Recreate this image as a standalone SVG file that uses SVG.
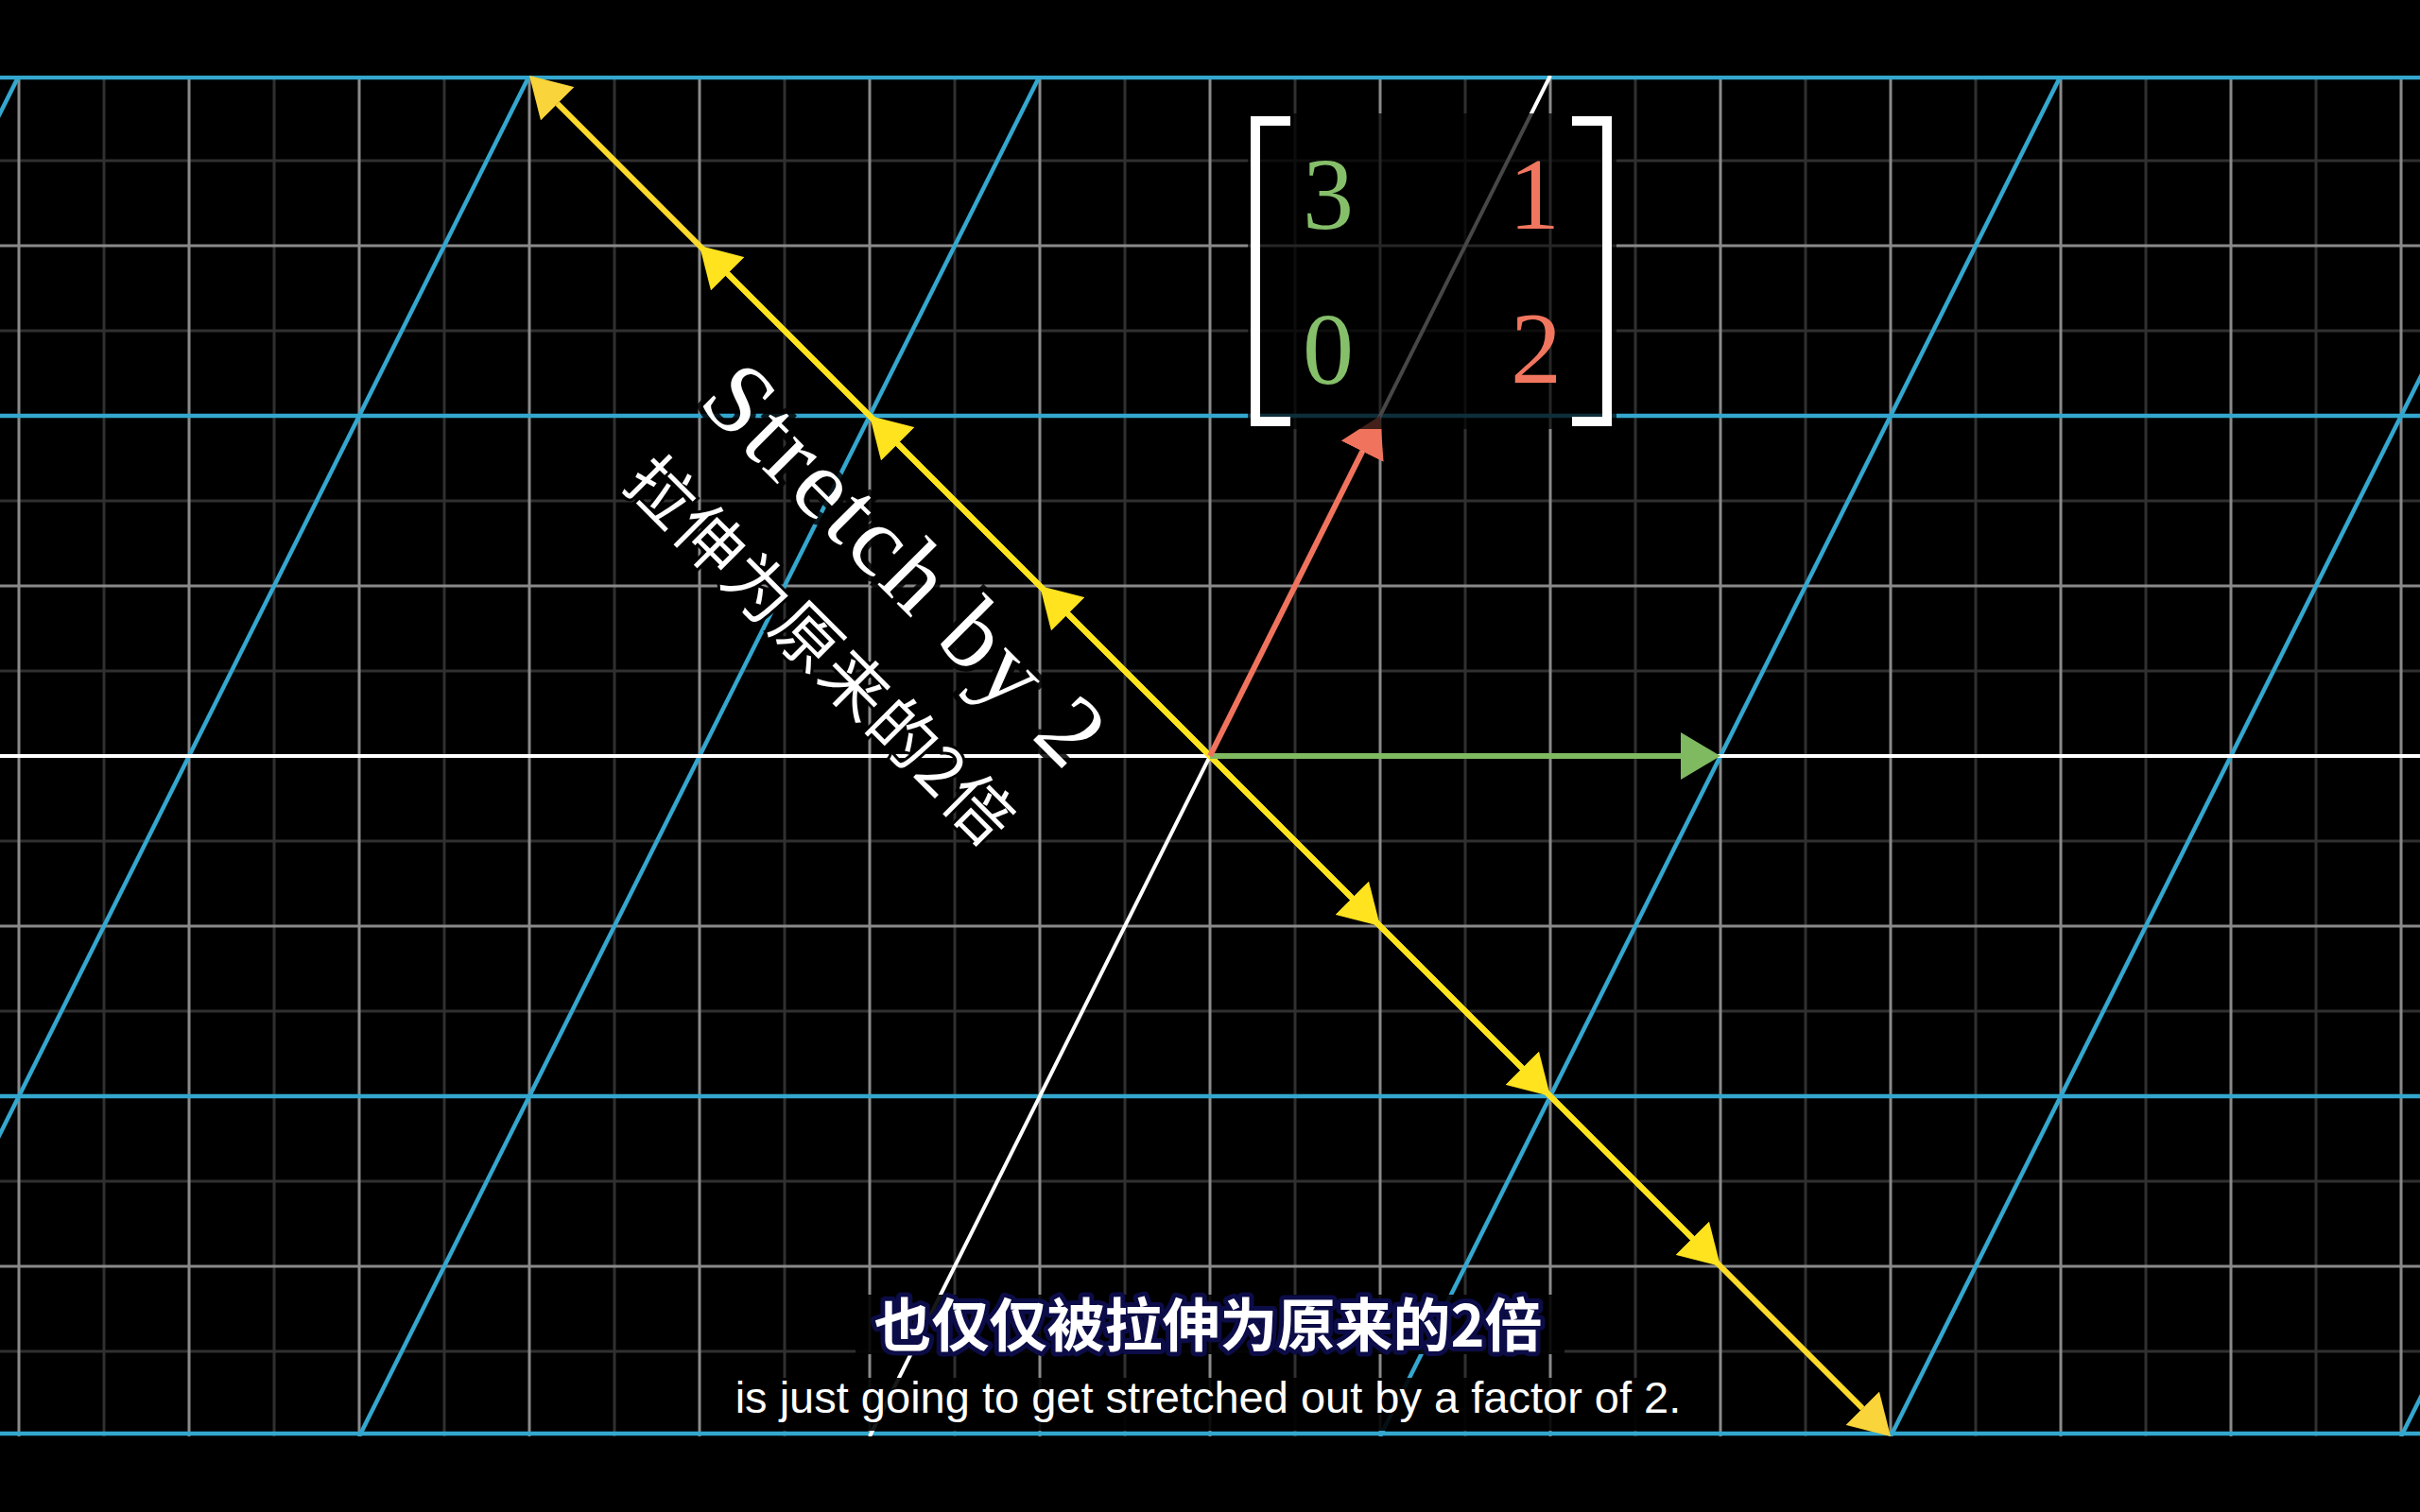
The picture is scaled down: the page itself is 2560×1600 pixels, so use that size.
<svg xmlns="http://www.w3.org/2000/svg" width="2560" height="1600" viewBox="0 0 2560 1600">
<defs>
<clipPath id="video"><rect x="0" y="80" width="2560" height="1440"/></clipPath>
<marker id="ahY" markerUnits="userSpaceOnUse" viewBox="0 -25 42 50" refX="0" refY="0" markerWidth="42" markerHeight="50" orient="auto"><path d="M0,-25 L42,0 L0,25 Z" fill="#FFE31E"/></marker>
<marker id="ahY4" markerUnits="userSpaceOnUse" viewBox="0 -25 42 50" refX="0" refY="0" markerWidth="42" markerHeight="50" orient="auto"><path d="M0,-25 L42,0 L0,25 Z" fill="#F9D43A"/></marker>
<marker id="ahG" markerUnits="userSpaceOnUse" viewBox="0 -25 42 50" refX="0" refY="0" markerWidth="42" markerHeight="50" orient="auto"><path d="M0,-25 L42,0 L0,25 Z" fill="#7FB960"/></marker>
<marker id="ahR" markerUnits="userSpaceOnUse" viewBox="0 -25 42 50" refX="0" refY="0" markerWidth="42" markerHeight="50" orient="auto"><path d="M0,-25 L42,0 L0,25 Z" fill="#F0735D"/></marker>
<style>
.gInt{stroke:#8a8a8a;stroke-width:3;fill:none}
.gHalf{stroke:#303030;stroke-width:3;fill:none}
.blue{stroke:#34A7CF;stroke-width:4.5;fill:none}
.axis{stroke:#ffffff;stroke-width:4;fill:none}
.vy{stroke:#FFE31E;stroke-width:6;fill:none;marker-end:url(#ahY)}
.vy4{stroke:#FCDA2C;stroke-width:6;fill:none;marker-end:url(#ahY4)}
.vg{stroke:#7FB960;stroke-width:6;fill:none;marker-end:url(#ahG)}
.vr{stroke:#F0735D;stroke-width:6;fill:none;marker-end:url(#ahR)}
.bracket{stroke:#ffffff;stroke-width:10;fill:none;stroke-linejoin:miter;stroke-linecap:butt}
.num{font-family:"Liberation Serif","DejaVu Serif",serif;font-size:108px;text-anchor:middle}
.label{font-family:"Liberation Serif","DejaVu Serif",serif;font-size:106px;fill:#ffffff;stroke:#000000;stroke-width:12;stroke-opacity:0.85;paint-order:stroke;text-anchor:middle}
.cnlabel{font-family:"Noto Sans CJK SC",sans-serif;font-size:70px;fill:#ffffff;stroke:#000000;stroke-width:6;paint-order:stroke;text-anchor:middle}
.subcn{font-family:"Noto Sans CJK SC",sans-serif;font-weight:700;font-size:61px;fill:#ffffff;stroke:#0c0c48;stroke-width:10;stroke-linejoin:round;paint-order:stroke;text-anchor:middle}
.suben{font-family:"Liberation Sans","Arial",sans-serif;font-size:47px;fill:#ffffff;stroke:#000000;stroke-width:3;paint-order:stroke;text-anchor:middle}
</style>
</defs>
<rect x="0" y="0" width="2560" height="1600" fill="#000000"/>
<g clip-path="url(#video)">
<g id="background-grid">
<path class="gHalf" d="M110 80V1520M290 80V1520M470 80V1520M650 80V1520M830 80V1520M1010 80V1520M1190 80V1520M1370 80V1520M1550 80V1520M1730 80V1520M1910 80V1520M2090 80V1520M2270 80V1520M2450 80V1520M0 170H2560M0 350H2560M0 530H2560M0 710H2560M0 890H2560M0 1070H2560M0 1250H2560M0 1430H2560"/>
<path class="gInt" d="M20 80V1520M200 80V1520M380 80V1520M560 80V1520M740 80V1520M920 80V1520M1100 80V1520M1280 80V1520M1460 80V1520M1640 80V1520M1820 80V1520M2000 80V1520M2180 80V1520M2360 80V1520M2540 80V1520M0 260H2560M0 620H2560M0 980H2560M0 1340H2560"/>
</g>
<g id="transformed-grid">
<path class="blue" d="M0 82H2560M0 440H2560M0 1160H2560M0 1517H2560"/>
<path class="blue" d="M20 80L-700 1520M560 80L-160 1520M1100 80L380 1520M2180 80L1460 1520M2720 80L2000 1520M3260 80L2540 1520"/>
<path class="axis" d="M0 800H2560M1640 80L920 1520"/>
</g>
<g id="connectors">
<line class="vy4" x1="1280" y1="800" x2="1970.3" y2="1490.3"/>
<line class="vy4" x1="1280" y1="800" x2="589.7" y2="109.7"/>
<line class="vy" x1="1280" y1="800" x2="1790.3" y2="1310.3"/>
<line class="vy" x1="1280" y1="800" x2="769.7" y2="289.7"/>
<line class="vy" x1="1280" y1="800" x2="1610.3" y2="1130.3"/>
<line class="vy" x1="1280" y1="800" x2="949.7" y2="469.7"/>
<line class="vy" x1="1280" y1="800" x2="1430.3" y2="950.3"/>
<line class="vy" x1="1280" y1="800" x2="1129.7" y2="649.7"/>
<line class="vg" x1="1280" y1="800" x2="1778" y2="800"/>
<line class="vr" x1="1280" y1="800" x2="1441.2" y2="477.6"/>
</g>
</g>
<g id="matrix">
<rect x="1320" y="120" width="390" height="334" fill="#000000" fill-opacity="0.72"/>
<path class="bracket" d="M1365 128H1328V446H1365"/>
<path class="bracket" d="M1663 128H1700V446H1663"/>
<text class="num" x="1405" y="242" fill="#86BF6A">3</text>
<text class="num" x="1623" y="242" fill="#F1765F">1</text>
<text class="num" x="1405" y="406" fill="#86BF6A">0</text>
<text class="num" x="1625" y="405" fill="#F1765F">2</text>
</g>
<g id="stretch-label">
<text class="label" transform="translate(932,622) rotate(45)" x="0" y="0" textLength="552" lengthAdjust="spacing">Stretch by 2</text>
</g>
<g id="stretch-label-cn">
<text class="cnlabel" transform="translate(850,706) rotate(45)" x="0" y="0" textLength="545" lengthAdjust="spacing">拉伸为原来的2倍</text>
</g>
<g id="subtitles">
<rect x="905" y="1370" width="750" height="63" fill="#000000" fill-opacity="0.9"/>
<rect x="755" y="1458" width="1045" height="56" fill="#000000" fill-opacity="0.9"/>
<text class="subcn" x="1278" y="1425">也仅仅被拉伸为原来的2倍</text>
<text class="suben" x="1278" y="1495">is just going to get stretched out by a factor of 2.</text>
</g>
</svg>
